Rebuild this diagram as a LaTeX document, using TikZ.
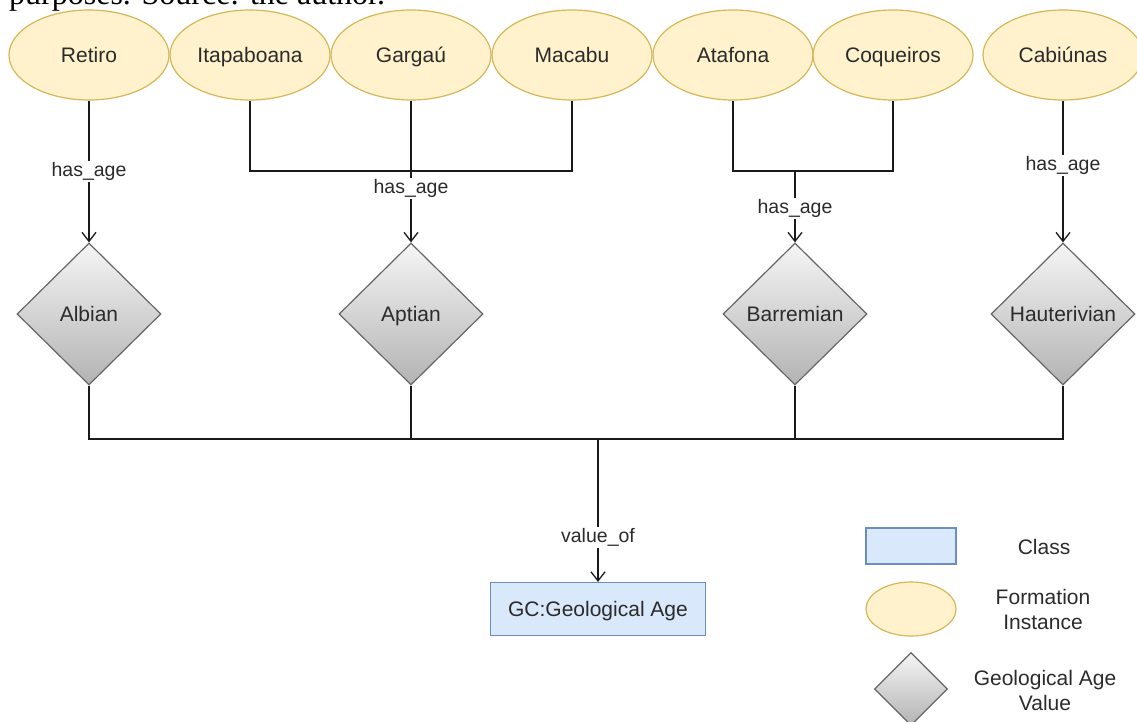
\documentclass[tikz,border=0pt]{standalone}
\usepackage{fontspec}
\setsansfont{Liberation Sans}
\newfontfamily\capfont{Liberation Serif}
\usetikzlibrary{shapes.geometric,arrows.meta}

\definecolor{formfill}{HTML}{FFF2CC}
\definecolor{formdraw}{HTML}{D6B656}
\definecolor{classfill}{HTML}{DAE8FC}
\definecolor{classdraw}{HTML}{6C8EBF}
\definecolor{agetop}{HTML}{F5F5F5}
\definecolor{agebot}{HTML}{B3B3B3}
\definecolor{agedraw}{HTML}{666666}
\definecolor{ink}{HTML}{1A1A1A}
\definecolor{txt}{HTML}{2B2B2B}

\tikzset{
  labelfont/.style={text=txt, text height=15pt, text depth=0pt,
    font=\sffamily\fontsize{21}{24}\selectfont},
  formation/.style={ellipse, draw=formdraw, fill=formfill, line width=1.2pt,
    minimum width=160pt, minimum height=90pt, inner sep=0pt, labelfont},
  agevalue/.style={diamond, draw=agedraw, top color=agetop, bottom color=agebot,
    line width=1.2pt, minimum width=144pt, minimum height=142pt, inner sep=0pt,
    labelfont},
  classbox/.style={rectangle, draw=classdraw, fill=classfill, line width=1.2pt,
    minimum width=215pt, minimum height=53pt, inner sep=0pt, labelfont},
  conn/.style={draw=ink, line width=1.3pt},
  arr/.style={conn, -{Straight Barb[length=9pt,width=14pt,line width=1.3pt]}},
  lbl/.style={fill=white, inner sep=1.5pt, text=txt,
    font=\sffamily\fontsize{19.5}{22}\selectfont},
  legendtext/.style={text=txt, align=center,
    font=\sffamily\fontsize{21}{25}\selectfont},
}

\begin{document}
\begin{tikzpicture}[x=1pt, y=-1pt]
\useasboundingbox (0,0) rectangle (1137,722);

% caption line above the figure
\node[anchor=base west, inner sep=0pt, font=\capfont\fontsize{32}{36}\selectfont]
  (cap) at (9,5) {purposes. Source: the author.};

% formation instances
\node[formation] (r1) at (89,55)   {Retiro};
\node[formation] (r2) at (250,55)  {Itapaboana};
\node[formation] (r3) at (411,55)  {Gargaú};
\node[formation] (r4) at (572,55)  {Macabu};
\node[formation] (r5) at (733,55)  {Atafona};
\node[formation] (r6) at (893,55)  {Coqueiros};
\node[formation] (r7) at (1063,55) {Cabiúnas};

% geological age values
\node[agevalue] (d1) at (89,314)   {Albian};
\node[agevalue] (d2) at (411,314)  {Aptian};
\node[agevalue] (d3) at (795,314)  {Barremian};
\node[agevalue] (d4) at (1063,314) {Hauterivian};

% class
\node[classbox] (gc) at (598,609) {GC:Geological Age};

% junctions
\coordinate (j1) at (411,171);
\coordinate (j2) at (795,171);
\coordinate (j3) at (598,439);

% has_age relations
\draw[arr] (r1.south) -- node[lbl, pos=0.5] {has\_age} (d1.north);
\draw[conn] (r2.south) |- (j1) -| (r4.south);
\draw[arr] (r3.south) -- node[lbl, pos=0.62] {has\_age} (d2.north);
\draw[conn] (r5.south) |- (j2) -| (r6.south);
\draw[arr] (j2) -- node[lbl, pos=0.53] {has\_age} (d3.north);
\draw[arr] (r7.south) -- node[lbl, pos=0.46] {has\_age} (d4.north);

% value_of relation
\draw[conn] (d1.south) |- (d4.south |- j3) -- (d4.south);
\draw[conn] (d2.south) -- (d2.south |- j3);
\draw[conn] (d3.south) -- (d3.south |- j3);
\draw[arr] (j3) -- node[lbl, pos=0.69] {value\_of} (gc.north);

% legend
\node[classbox, minimum width=90pt, minimum height=36pt] (lc) at (911,546) {};
\node[legendtext] (lct) at (1044,547) {Class};
\node[formation, minimum width=90pt, minimum height=54pt] (lf) at (911,609) {};
\node[legendtext] (lft) at (1043,609) {Formation\\Instance};
\node[agevalue, minimum width=73pt, minimum height=73pt] (la) at (911,689) {};
\node[legendtext] (lat) at (1045,690) {Geological Age\\Value};
\end{tikzpicture}
\end{document}
